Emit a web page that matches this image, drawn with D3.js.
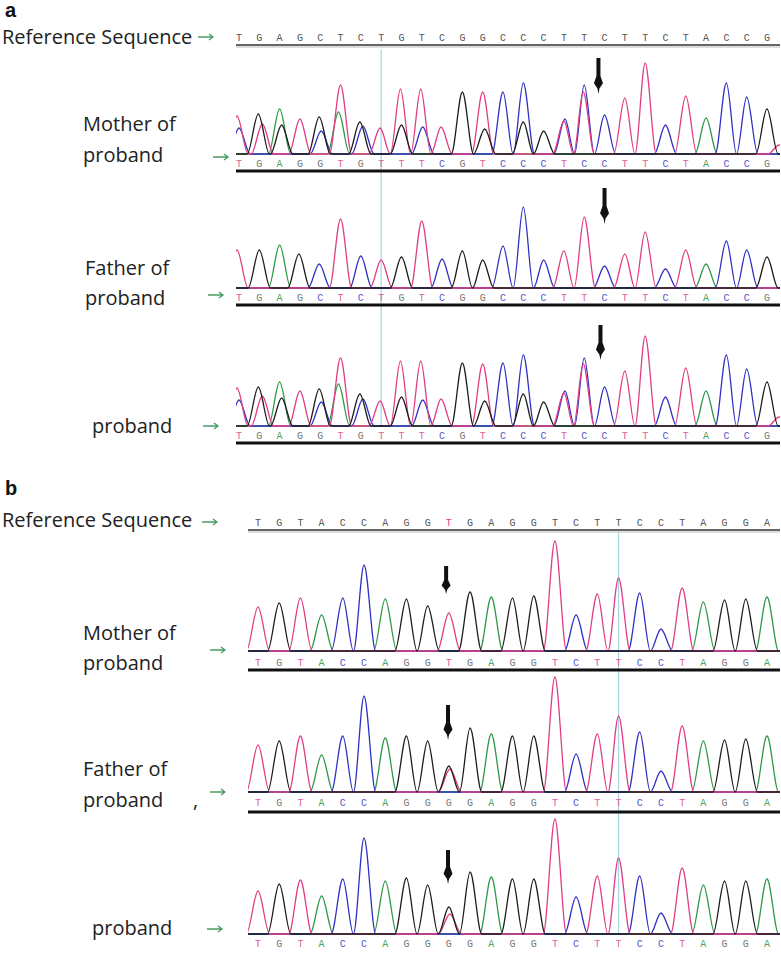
<!DOCTYPE html>
<html>
<head>
<meta charset="utf-8">
<script src="https://cdn.jsdelivr.net/npm/d3@7"></script>
<style>
    body { margin: 0; background: #fff; }
    svg { display: block; }
</style>
</head>
<body>
<svg id="chart" width="781" height="953"></svg>
<script>
// ---- sequences ----
const refSeqA = "TGAGCTCTGTCGGCCCTTCTTCTACCG".split("")
const motherSeqA = "TGAGGTGTTTCGTCCCTCCTTCTACCG".split("")
const fatherSeqA = "TGAGCTCTGTCGGCCCTTCTTCTACCG".split("")
const probandSeqA = "TGAGGTGTTTCGTCCCTCCTTCTACCG".split("")

const refSeqB = "TGTACCAGGTGAGGTCTTCCTAGGA".split("")
const motherSeqB = "TGTACCAGGTGAGGTCTTCCTAGGA".split("")
const fatherSeqB = "TGTACCAGGGGAGGTCTTCCTAGGA".split("")
const probandSeqB = "TGTACCAGGGGAGGTCTTCCTAGGA".split("")

// ---- peaks: [position (base index), base, signal height] ----
const motherPeaksA = [
    [-0.1, "T", 38], [0, "C", 26], [0.95, "G", 40], [1.15, "T", 30],
    [2, "A", 45], [2.1, "G", 29], [3, "T", 35], [3.95, "G", 37], [4.05, "C", 23],
    [4.9, "A", 42], [5, "T", 69], [5.95, "G", 32], [6.1, "C", 28], [6.95, "T", 26],
    [7.95, "T", 65], [8, "G", 29], [8.95, "T", 65], [9.05, "C", 27], [9.95, "T", 27],
    [11, "G", 62], [12, "T", 62], [12.1, "G", 25], [13, "C", 62], [14, "C", 71],
    [14, "G", 32], [15, "G", 23], [16, "T", 33], [16.05, "C", 35], [16.95, "T", 62],
    [17, "C", 69], [18, "C", 39], [19, "T", 56], [20, "T", 91], [21, "C", 29],
    [22, "T", 58], [23, "A", 36], [24, "C", 71], [25, "C", 57], [26, "G", 45],
    [26.6, "T", 9]
]
const fatherPeaksA = [
    [-0.1, "T", 38], [1, "G", 38], [2, "A", 43], [2.95, "G", 34], [3.95, "C", 24],
    [5, "T", 69], [6, "C", 32], [7, "T", 28], [8, "G", 31], [9, "T", 67],
    [10, "C", 29], [11, "G", 37], [12, "G", 28], [13, "C", 42], [14, "C", 81],
    [15, "C", 28], [16, "T", 37], [17, "T", 71], [18, "C", 22], [19, "T", 34],
    [20, "T", 56], [21, "C", 19], [22, "T", 38], [23, "A", 24], [24, "C", 47],
    [25, "C", 38], [26, "G", 31]
]
const probandPeaksA = [
    [-0.1, "T", 38], [0, "C", 26], [0.95, "G", 39], [1.15, "T", 30],
    [2, "A", 44], [2.1, "G", 28], [3, "T", 35], [3.95, "G", 37], [4.05, "C", 24],
    [4.9, "A", 42], [5, "T", 68], [5.95, "G", 32], [6.1, "C", 27], [6.95, "T", 25],
    [7.95, "T", 65], [8, "G", 29], [8.95, "T", 65], [9.05, "C", 26], [9.95, "T", 27],
    [11, "G", 63], [12, "T", 62], [12.1, "G", 25], [13, "C", 63], [14, "C", 71],
    [14, "G", 32], [15, "G", 24], [16, "T", 33], [16.05, "C", 35], [16.95, "T", 62],
    [17, "C", 68], [18, "C", 39], [19, "T", 55], [20, "T", 90], [21, "C", 29],
    [22, "T", 58], [23, "A", 35], [24, "C", 71], [25, "C", 57], [26, "G", 44],
    [26.6, "T", 9]
]

const motherPeaksB = [
    [0, "T", 44], [1, "G", 48], [2, "T", 53], [3, "A", 36], [4, "C", 53],
    [5, "C", 86], [6, "A", 52], [7, "G", 52], [8, "G", 45], [9, "T", 38],
    [10, "G", 59], [11, "A", 54], [12, "G", 53], [13, "G", 55], [14, "T", 110],
    [15, "C", 36], [16, "T", 57], [17, "T", 73], [18, "C", 58], [19, "C", 22],
    [20, "T", 63], [21, "A", 49], [22, "G", 51], [23, "G", 52], [24, "A", 54]
]
const fatherPeaksB = [
    [0, "T", 47], [1, "G", 51], [2, "T", 56], [3, "A", 37], [4, "C", 56],
    [5, "C", 96], [6, "A", 54], [7, "G", 56], [8, "G", 51], [9, "G", 26], [9.05, "T", 23],
    [10, "G", 64], [11, "A", 58], [12, "G", 56], [13, "G", 56], [14, "T", 115],
    [15, "C", 38], [16, "T", 58], [17, "T", 76], [18, "C", 60], [19, "C", 21],
    [20, "T", 66], [21, "A", 51], [22, "G", 52], [23, "G", 53], [24, "A", 56]
]
const probandPeaksB = [
    [0, "T", 43], [1, "G", 50], [2, "T", 54], [3, "A", 38], [4, "C", 55],
    [5, "C", 96], [6, "A", 53], [7, "G", 56], [8, "G", 49], [9, "G", 27], [9.05, "T", 20],
    [10, "G", 62], [11, "A", 57], [12, "G", 55], [13, "G", 55], [14, "T", 115],
    [15, "C", 37], [16, "T", 58], [17, "T", 76], [18, "C", 58], [19, "C", 21],
    [20, "T", 66], [21, "A", 49], [22, "G", 53], [23, "G", 53], [24, "A", 55]
]

// ---- styles ----
const traceColor = { A: "#2f9848", C: "#3030c4", G: "#1c1c1c", T: "#e23d84" }
const letterColor = { A: "#4aa460", C: "#5656cc", G: "#777", T: "#e0609a" }
const drawOrder = ["A", "C", "T", "G"]   // G last: black baseline on top

// ---- layout ----
const layoutA = {
    xRange: [239, 767], traceX: [236, 780], labelY: 17,
    refTextY: 44, refY: 41, refLineY: 45, refArrow: [198, 37],
    markerAt: 7, markerY: [50, 426], halfWidth: 0.55,
    rows: [
        { nameX: 83, nameY: [131, 162], arrow: [213, 157], base: 154, seqY: 167, lineY: 171, mutAt: 17.7, mutY: [58, 94] },
        { nameX: 85, nameY: [275, 305], arrow: [208, 295], base: 288, seqY: 301, lineY: 305, mutAt: 18.0, mutY: [188, 224] },
        { nameX: 92, nameY: [433], arrow: [203, 426], base: 426, seqY: 439, lineY: 443, mutAt: 17.8, mutY: [325, 360] }
    ]
}
const layoutB = {
    xRange: [258, 767], traceX: [248, 780], labelY: 495,
    refTextY: 527, refY: 526, refLineY: 530, refArrow: [202, 522],
    markerAt: 17, markerY: [532, 934], halfWidth: 0.55,
    rows: [
        { nameX: 83, nameY: [640, 670], arrow: [210, 650], base: 651, seqY: 666, lineY: 670, mutAt: 8.87, mutY: [566, 594] },
        { nameX: 83, nameY: [776, 807], arrow: [210, 792], base: 792, seqY: 806, lineY: 812, mutAt: 8.96, mutY: [705, 740], comma: 193 },
        { nameX: 92, nameY: [935], arrow: [207, 929], base: 934, seqY: 947, lineY: null, mutAt: 8.96, mutY: [850, 884] }
    ]
}

const panels = [
    {
        label: "a", layout: layoutA, refSeq: refSeqA, refHighlight: [],
        rows: [
            { name: ["Mother of", "proband"], seq: motherSeqA, peaks: motherPeaksA },
            { name: ["Father of", "proband"], seq: fatherSeqA, peaks: fatherPeaksA },
            { name: ["proband"], seq: probandSeqA, peaks: probandPeaksA }
        ]
    },
    {
        label: "b", layout: layoutB, refSeq: refSeqB, refHighlight: [9],
        rows: [
            { name: ["Mother of", "proband"], seq: motherSeqB, peaks: motherPeaksB },
            { name: ["Father of", "proband"], seq: fatherSeqB, peaks: fatherPeaksB },
            { name: ["proband"], seq: probandSeqB, peaks: probandPeaksB }
        ]
    }
]

let Chromatogram = function (svg, panel) {
    this.svg = svg
    this.panel = panel
    this.layout = panel.layout
    this.x = d3.scaleLinear()
        .domain([0, panel.refSeq.length - 1])
        .range(this.layout.xRange)
    this.g = svg.append("g").attr("id", "panel-" + panel.label)
    this.draw()
}

Chromatogram.prototype.draw = function () {
    this.addMarker()
    this.addLabel()
    this.addReference()
    this.panel.rows.forEach((row, i) => this.addRow(row, this.layout.rows[i], i))
}

Chromatogram.prototype.addLabel = function () {
    this.g.append("text")
        .attr("x", 5)
        .attr("y", this.layout.labelY)
        .attr("font-family", "Liberation Sans, Arial, sans-serif")
        .attr("font-weight", "bold")
        .attr("font-size", 20)
        .attr("fill", "#111")
        .text(this.panel.label)
}

Chromatogram.prototype.addMarker = function () {
    const x = this.x(this.layout.markerAt)
    this.g.append("line")
        .attr("x1", x).attr("x2", x)
        .attr("y1", this.layout.markerY[0]).attr("y2", this.layout.markerY[1])
        .attr("stroke", "#a6d4e2")
        .attr("stroke-width", 1.2)
}

Chromatogram.prototype.greenArrow = function (x, y) {
    this.g.append("path")
        .attr("d", `M${x},${y} L${x + 15},${y} M${x + 11},${y - 3} L${x + 15},${y} L${x + 11},${y + 3}`)
        .attr("fill", "none")
        .attr("stroke", "#4a9c64")
        .attr("stroke-width", 1.3)
}

Chromatogram.prototype.addReference = function () {
    let _this = this
    const l = this.layout
    this.g.append("text")
        .attr("x", 2)
        .attr("y", l.refTextY)
        .attr("class", "row-name")
        .text("Reference Sequence")
    this.greenArrow(l.refArrow[0], l.refArrow[1])

    this.g.append("g").selectAll("text")
        .data(this.panel.refSeq)
        .join("text")
        .attr("x", (d, i) => _this.x(i))
        .attr("y", l.refY)
        .attr("class", "base-letter")
        .attr("fill", (d, i) => _this.panel.refHighlight.includes(i) ? traceColor.T : "#555")
        .text(d => d)

    this.g.append("line")
        .attr("x1", l.traceX[0]).attr("x2", l.traceX[1])
        .attr("y1", l.refLineY).attr("y2", l.refLineY)
        .attr("stroke", "#666").attr("stroke-width", 2)
    this.g.append("line")
        .attr("x1", l.traceX[0]).attr("x2", l.traceX[1])
        .attr("y1", l.refLineY + 2).attr("y2", l.refLineY + 2)
        .attr("stroke", "#bbb").attr("stroke-width", 1)
}

Chromatogram.prototype.channelPoints = function (peaks, base) {
    const hw = this.layout.halfWidth
    const list = peaks.filter(p => p[1] === base).sort((a, b) => a[0] - b[0])
    const d0 = this.x.invert(this.layout.traceX[0]) - 1
    const d1 = this.x.invert(this.layout.traceX[1]) + 1
    const pts = [[d0, 0]]
    list.forEach((p, k) => {
        const prev = list[k - 1]
        if (prev && p[0] - prev[0] <= 2 * hw + 0.02) {
            // neighbouring peaks of one base meet in a valley
            pts.pop()
            pts.push([(prev[0] + p[0]) / 2, 0])
        } else {
            pts.push([p[0] - hw, 0])
        }
        pts.push([p[0], p[2]])
        pts.push([p[0] + hw, 0])
    })
    pts.push([d1, 0])
    return pts
}

Chromatogram.prototype.addRow = function (row, rl, i) {
    let _this = this
    const l = this.layout
    const g = this.g.append("g").attr("class", "row")

    // name
    row.name.forEach((t, k) => {
        g.append("text")
            .attr("x", rl.nameX)
            .attr("y", rl.nameY[k])
            .attr("class", "row-name")
            .text(t)
    })
    if (rl.comma) {
        g.append("text").attr("x", rl.comma).attr("y", rl.nameY[1])
            .attr("class", "row-name").attr("font-size", 14).text(",")
    }
    this.greenArrow(rl.arrow[0], rl.arrow[1])

    // trace
    const y = d3.scaleLinear().domain([0, 100]).range([rl.base, rl.base - 100])
    const clipId = `clip-${this.panel.label}-${i}`
    g.append("clipPath").attr("id", clipId)
        .append("rect")
        .attr("x", l.traceX[0]).attr("y", rl.base - 130)
        .attr("width", l.traceX[1] - l.traceX[0]).attr("height", 132)

    const line = d3.line()
        .x(d => _this.x(d[0]))
        .y(d => y(d[1]))
        .curve(d3.curveMonotoneX)

    g.append("g").attr("clip-path", `url(#${clipId})`)
        .selectAll("path")
        .data(drawOrder)
        .join("path")
        .attr("d", b => line(_this.channelPoints(row.peaks, b)))
        .attr("fill", "none")
        .attr("stroke", b => traceColor[b])
        .attr("stroke-width", 1.3)
        .attr("stroke-linejoin", "round")

    // base calls
    g.append("g").selectAll("text")
        .data(row.seq)
        .join("text")
        .attr("x", (d, k) => _this.x(k))
        .attr("y", rl.seqY)
        .attr("class", "base-letter")
        .attr("fill", d => letterColor[d])
        .text(d => d)

    if (rl.lineY !== null) {
        g.append("line")
            .attr("x1", l.traceX[0]).attr("x2", l.traceX[1])
            .attr("y1", rl.lineY).attr("y2", rl.lineY)
            .attr("stroke", "#111").attr("stroke-width", 3)
    }

    // mutation arrow
    const cx = this.x(rl.mutAt)
    const y0 = rl.mutY[0], y1 = rl.mutY[1], L = y1 - y0
    g.append("path")
        .attr("d", `M${cx - 2},${y0} L${cx + 2},${y0} L${cx + 2},${y0 + 0.5 * L}
            L${cx + 4.5},${y0 + 0.7 * L} L${cx + 1},${y0 + 0.85 * L} L${cx},${y1}
            L${cx - 1},${y0 + 0.85 * L} L${cx - 4.5},${y0 + 0.7 * L} L${cx - 2},${y0 + 0.5 * L} Z`)
        .attr("fill", "#111")
}

const svg = d3.select("#chart")
svg.append("style").text(`
    .row-name { font-family: "Open Sans", sans-serif; font-size: 20px; fill: #222; }
    .base-letter { font-family: "Liberation Mono", monospace; font-size: 10px; text-anchor: middle; }
`)

panels.forEach(p => new Chromatogram(svg, p))
</script>
</body>
</html>
